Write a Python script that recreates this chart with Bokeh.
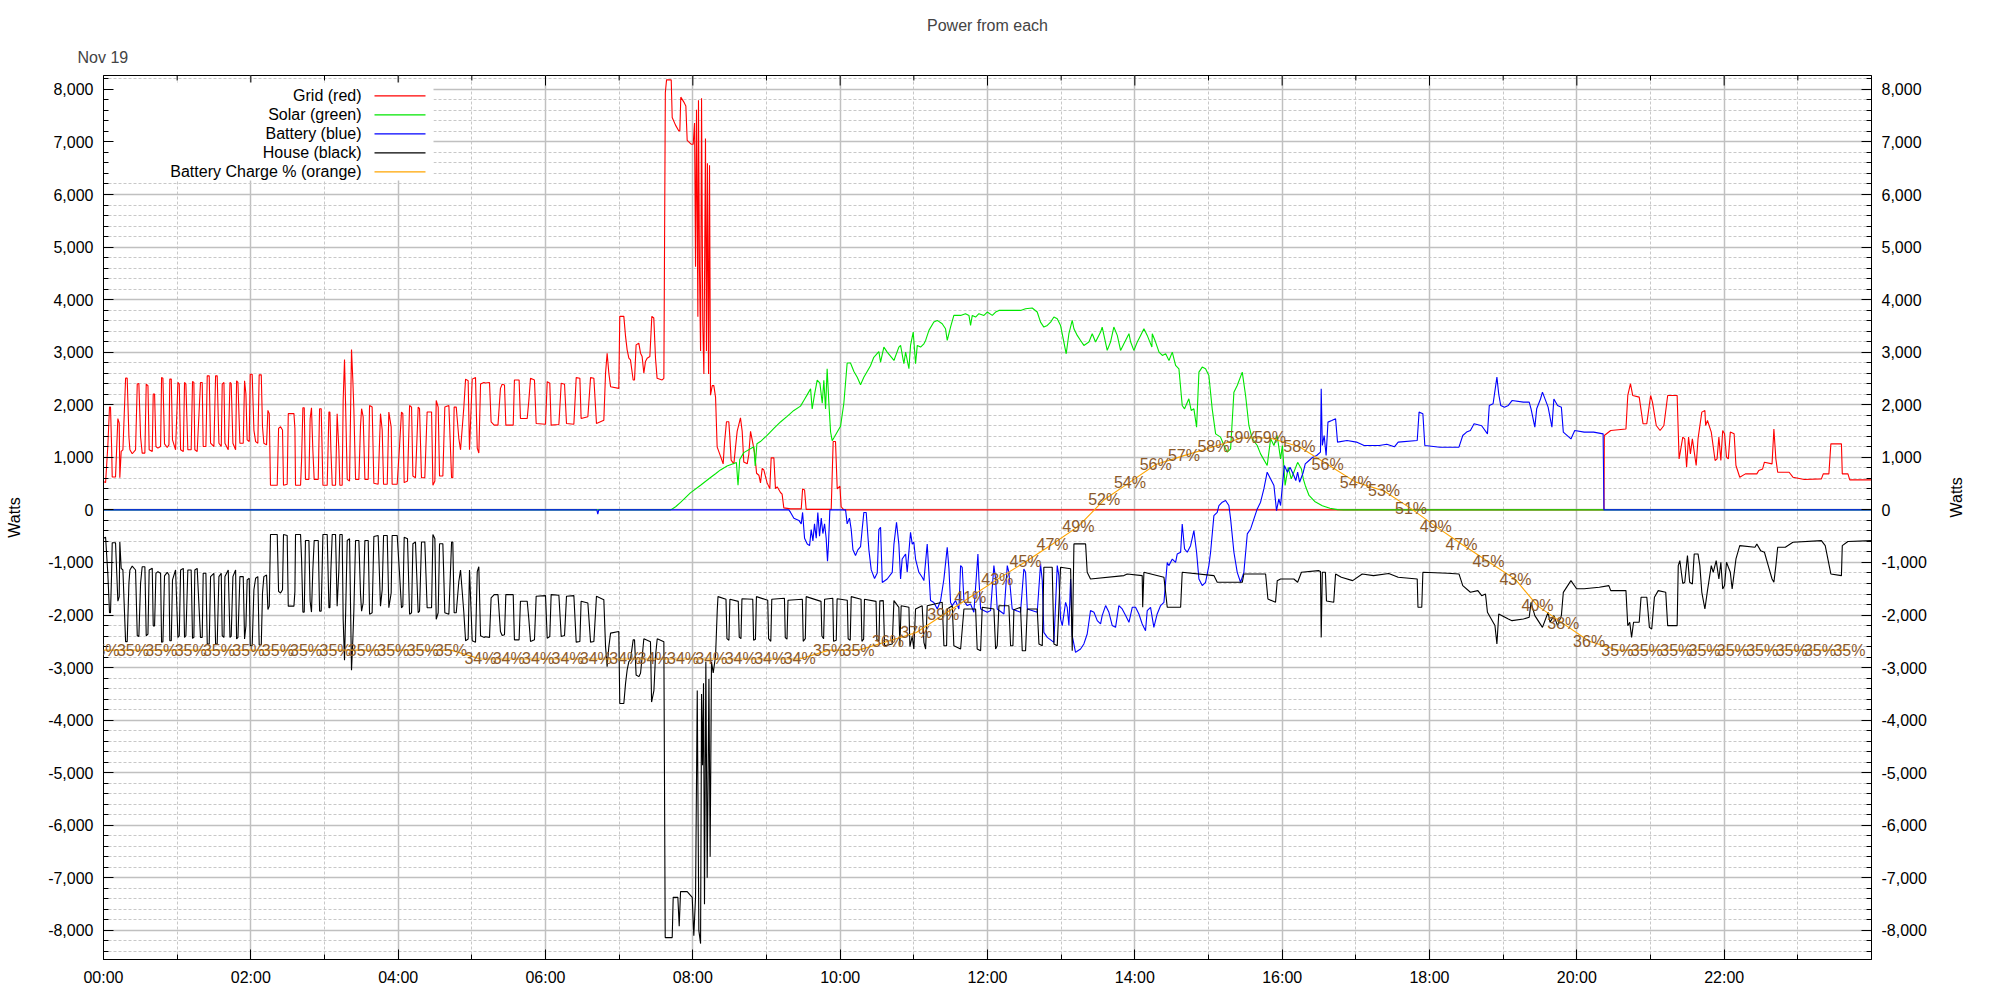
import math
from bokeh.plotting import figure
from bokeh.models import (Range1d, FixedTicker, NumeralTickFormatter, LinearAxis,
                          Title, Grid, LabelSet, ColumnDataSource)
from bokeh.embed import file_html
from bokeh.resources import INLINE
from bokeh.core.properties import value

FONT = "Liberation Sans"

# ---------------- ticks ----------------
x_tick_minutes = [0, 120, 240, 360, 480, 600, 720, 840, 960, 1080, 1200, 1320]
x_tick_labels = ["00:00", "02:00", "04:00", "06:00", "08:00", "10:00",
                 "12:00", "14:00", "16:00", "18:00", "20:00", "22:00"]
x_minor_minutes = [60, 180, 300, 420, 540, 660, 780, 900, 1020, 1140, 1260, 1380]
y_ticks = [-8000, -7000, -6000, -5000, -4000, -3000, -2000, -1000, 0,
           1000, 2000, 3000, 4000, 5000, 6000, 7000, 8000]
y_minor = [v for v in range(-8400, 8201, 200) if v % 1000 != 0]

title_text = "Power from each"
date_text = "Nov 19"
legend_labels = ["Grid (red)", "Solar (green)", "Battery (blue)",
                 "House (black)", "Battery Charge % (orange)"]

# ---------------- data (minutes since midnight, watts) ----------------
grid_pts = [
    (0, 540), (1.7, 519), (3.5, 1206), (4.9, 1956), (5.7, 1956), (6.6, 1206), (7.1, 625), (9.8, 625),
    (11.7, 1737), (12.8, 1650), (13.3, 612), (14.4, 1112), (15.8, 1143), (18, 2506), (19.3, 2506),
    (20.7, 1393), (21.5, 1143), (23.4, 1068), (26.1, 1143), (27.5, 2394), (28.8, 2406), (30.2, 1393),
    (31.5, 1081), (33.7, 1081), (34.8, 2394), (36.2, 2363), (37.2, 1143), (39.7, 1112), (40.5, 2206),
    (41.6, 2206), (42.7, 1206), (44.3, 1175), (46.5, 1206), (47.3, 2519), (48.4, 2506), (49.7, 1256),
    (51.9, 1187), (53.3, 1237), (54, 2488), (55.2, 2488), (56.2, 1331), (58.7, 1143), (60.6, 2425),
    (61.7, 2394), (62.8, 1143), (65, 1112), (66, 2425), (67.1, 2394), (68.7, 1143), (71.4, 1143),
    (72.5, 2444), (73.6, 2425), (74.4, 1143), (76.3, 1112), (79, 2425), (80.4, 2425), (81.2, 1206),
    (83.4, 1206), (84.5, 2550), (86.1, 2550), (87.2, 1269), (89.9, 1206), (91.3, 2550), (92.6, 2550),
    (94, 1269), (95.9, 1206), (96.7, 2394), (98.1, 2425), (98.9, 1269), (101.6, 1143), (103, 2425),
    (104, 2406), (105.4, 1269), (107.6, 1143), (108.4, 2456), (109.5, 2425), (111.1, 1269), (113.8, 1269),
    (114.9, 2456), (116, 2206), (117, 1331), (118.7, 1300), (119.5, 2581), (121.1, 2581), (122.5, 1519),
    (123.9, 1300), (125.7, 1269), (126.8, 2569), (128.5, 2569), (129.5, 1581), (130.6, 1269),
    (132.8, 1237), (133.9, 1894), (135, 1831), (136, 469), (141.5, 469), (142.6, 1550), (144.2, 1581),
    (145.8, 1519), (146.6, 469), (149.6, 487), (150.5, 1831), (155.1, 1831), (155.9, 1550), (156.4, 469),
    (160.5, 469), (161.3, 925), (162.4, 1944), (163.5, 1944), (164.5, 581), (167.3, 581), (168.3, 1737),
    (169.4, 1944), (170.5, 1143), (171.6, 581), (174.9, 581), (176, 1925), (177.3, 1925), (178.7, 469),
    (182.2, 469), (183.6, 1862), (184.4, 1862), (185.2, 1143), (186.3, 469), (189, 469), (190.3, 1831),
    (191.7, 1143), (192.5, 469), (194.4, 469), (195.2, 2081), (196.3, 2862), (197.1, 2081), (198.5, 581),
    (200.4, 550), (202, 3050), (203.1, 2456), (203.9, 1925), (205.3, 581), (208, 581), (209.3, 1581),
    (210.2, 1925), (211.5, 1769), (212.9, 581), (215.6, 581), (216.7, 1987), (218.8, 1956), (220.2, 506),
    (223.7, 487), (225.6, 1831), (227, 1519), (228.1, 487), (231.1, 487), (232.4, 1862), (234.3, 1581),
    (235.1, 487), (239.2, 487), (241.1, 1206), (242.7, 1862), (243.8, 1831), (244.9, 519), (247.6, 550),
    (249.3, 1987), (250.9, 1956), (252, 644), (254.1, 612), (256.3, 1956), (257.4, 1925), (259, 612),
    (261.7, 612), (263.6, 1862), (267.2, 1862), (268.3, 469), (269.9, 550), (271, 2081), (272.6, 1956),
    (273.7, 644), (276.4, 644), (278, 1956), (281.3, 1987), (283.5, 612), (284.5, 612), (285.6, 1956),
    (287.3, 1956), (289.4, 1362), (290.8, 1143), (293.5, 1956), (294.9, 2488), (297, 2456), (298.1, 1143),
    (299.5, 1987), (300.3, 2488), (303, 2519), (304.4, 1175), (305.7, 1081), (307.1, 2394), (309.8, 2425),
    (311.2, 2413), (314.4, 2425), (315.7, 1675), (318.2, 1612), (321.3, 1612), (323.3, 2312),
    (324.7, 2389), (326.6, 2376), (327.7, 1612), (333.7, 1612), (334.7, 2472), (338.5, 2472),
    (339.6, 1739), (345.1, 1739), (346.4, 2070), (347.8, 2503), (351, 2472), (352.4, 1643), (360, 1630),
    (361.4, 2440), (363.5, 2408), (364.6, 1612), (370.9, 1624), (372.8, 2408), (375.5, 2389),
    (377.1, 1643), (383.1, 1630), (385, 2516), (388, 2503), (389, 1739), (394.5, 1771), (396.7, 2516),
    (399.4, 2503), (401.5, 1643), (407.5, 1707), (408.9, 2600), (410.2, 2981), (411.6, 2600),
    (413, 2344), (419.7, 2312), (420.5, 3682), (423.8, 3682), (425.2, 3300), (426.5, 3045),
    (427.9, 2886), (429.2, 2854), (431.4, 2472), (432.5, 2472), (433.8, 3140), (436, 3172), (437.4, 2981),
    (438.7, 2917), (440.1, 2600), (441.4, 2822), (442.8, 2886), (445, 2917), (446.6, 3682), (448.2, 3650),
    (449.6, 2886), (450.9, 2503), (455, 2472), (456.4, 2503),
    (457.6, 7940), (458.6, 8180), (462.4, 8180), (463.2, 7466), (465.9, 7320), (468.6, 7210),
    (469.4, 7210), (470.2, 7852), (472.7, 7758), (474.3, 7686), (475.4, 7030), (478.6, 6957),
    (480.3, 6957), (481.4, 7358), (482.2, 4624), (483, 7612), (484.1, 3676), (484.6, 7795), (485.4, 4624),
    (486.3, 3021), (487.1, 7831), (488.1, 3532), (489, 2584), (490.3, 7064), (491.1, 3021), (491.9, 6593),
    (492.8, 2584), (493.6, 6556), (494.4, 2183), (495.8, 2365), (497.1, 2365), (498.5, 2147),
    (499.8, 1200), (502.5, 1022), (504.7, 876), (505.8, 1272), (507.4, 1676), (509.3, 1676), (510.1, 1404),
    (511.2, 946), (513.4, 876), (514.8, 1200), (516.1, 1494), (518.8, 1750), (520.2, 1494), (521.5, 910),
    (524.3, 876), (525.6, 1058), (527, 1494), (529.1, 1240), (530.5, 1058), (531.9, 698), (533.8, 660),
    (535.1, 514), (536.5, 790), (537.8, 760), (540.5, 514), (542.7, 405), (543.8, 990), (546, 990),
    (547.3, 405), (548.7, 440), (551.4, 331), (552.7, 300), (554.1, 38), (559.6, 20), (568.3, 20),
    (569.4, 400), (571, 380), (572.3, 10), (592.7, 10), (594.3, 1300), (596.2, 1300), (597.6, 400),
    (599.8, 450), (600.8, 60), (603, 0), (1222.1, 0),
    (1222.4, 1415), (1227.6, 1510), (1240, 1540), (1241.5, 2177), (1243.7, 2400), (1245.5, 2177),
    (1250.8, 2145), (1253.9, 1640), (1257, 1640), (1260.1, 2177), (1261.6, 2050), (1264.7, 1606),
    (1267.8, 1510), (1270.9, 1606), (1274, 2177), (1281.7, 2177), (1283.3, 971), (1286.3, 1384),
    (1287.9, 1350), (1289.4, 812), (1291, 1384), (1292.5, 1066), (1294.1, 1350), (1297.2, 844),
    (1298.7, 1350), (1301.8, 1860), (1304.3, 1890), (1304.9, 1606), (1306.4, 1700), (1309.5, 1480),
    (1312.6, 939), (1314.2, 971), (1315.7, 1384), (1317.3, 939), (1318.8, 1510), (1320.3, 1447),
    (1321.9, 1003), (1323.4, 971), (1325, 1480), (1328.1, 1447), (1329.6, 844), (1332.7, 622),
    (1337.3, 685), (1346.6, 685), (1348.2, 749), (1351.3, 780), (1352.8, 907), (1359, 876), (1360.5, 1540),
    (1362.1, 971), (1363.6, 717), (1372.9, 717), (1376, 622), (1385.3, 577), (1399.2, 590), (1400.7, 685),
    (1405.3, 685), (1406.9, 1256), (1415.5, 1256), (1416.2, 685), (1420.8, 685), (1422.3, 571),
    (1440, 571),
]

solar_pts = [
    (0, 0), (462, 0), (466, 60), (470, 143), (478, 324), (486.3, 470), (494.4, 616), (498.5, 688),
    (502.5, 761), (507.9, 834), (515.5, 900), (516.8, 470), (518.2, 960), (521.5, 1090), (529.7, 1200),
    (530.8, 836), (532.2, 1260), (535, 1300), (540.5, 1418), (546, 1550), (551.4, 1673), (556.8, 1780),
    (562.3, 1892), (567.7, 1974), (570.4, 2083), (573.2, 2193), (575.9, 2302), (577.2, 1920),
    (579.1, 2193), (581.3, 2467), (583.5, 2412), (585.4, 2029), (586.7, 2467), (588.1, 1920),
    (589.4, 2686), (590.8, 2029), (592.2, 1482), (593.5, 1318), (594.9, 1373), (597.6, 1482),
    (600.3, 1591), (603, 2029), (605.7, 2796), (608.4, 2796), (611.2, 2632), (613.9, 2522),
    (616.6, 2380), (619.3, 2522), (622, 2632), (624.7, 2741), (627.4, 2903), (631.5, 3013),
    (632.9, 2812), (635.6, 3097), (638.3, 3002), (643.8, 2843), (647.8, 3097), (649.2, 3129),
    (651.9, 2780), (653.3, 3002), (656, 2685), (657.3, 3129), (659.5, 3383), (661.4, 2780),
    (662.8, 3129), (665.5, 3097), (668.2, 3160), (669.6, 3224), (672.3, 3415), (676.3, 3573),
    (679.1, 3605), (683.1, 3542), (685.8, 3446), (687.2, 3224), (689.9, 3478), (692.6, 3700),
    (698.1, 3700), (702.1, 3732), (704.9, 3700), (706.2, 3510), (707.6, 3700), (710.3, 3669),
    (713, 3732), (717.1, 3700), (719.8, 3764), (723.9, 3700), (726.6, 3764), (729.3, 3795),
    (736.1, 3795), (741.5, 3795), (746.9, 3795), (751, 3827), (756.4, 3840), (760.5, 3764),
    (763.2, 3573), (765.9, 3478), (768.7, 3510), (771.4, 3573), (774.1, 3669), (776.8, 3637),
    (779.5, 3510), (782.2, 3193), (784.1, 2970), (786.3, 3352), (789, 3605), (790.4, 3446),
    (793.1, 3320), (795.8, 3224), (798.5, 3129), (802.6, 3193), (805.3, 3352), (808, 3193),
    (812.1, 3383), (813.4, 3478), (817.5, 3034), (820.2, 3193), (822.9, 3478), (825.7, 3320),
    (828.4, 3034), (831.1, 3161), (835.2, 3352), (836.6, 3193), (839.2, 3034), (842, 3193),
    (844.7, 3320), (847.4, 3446), (850.1, 3320), (853.9, 3097), (854.2, 3352), (856.9, 3193),
    (859.7, 3002), (862.4, 2939), (865.1, 2970), (867.8, 2843), (870.5, 3002), (873.2, 2748),
    (875.9, 2685), (878.6, 1987), (880.5, 1923), (884, 2114), (885.9, 1891), (888.1, 1923),
    (890.3, 1574), (892.2, 2621), (894.9, 2717), (897.6, 2685), (900.3, 2558), (903, 1923),
    (905.8, 1447), (909.8, 1384), (912.6, 1225), (915.3, 1098), (918, 1161), (920.7, 2240),
    (923.4, 2367), (927.5, 2621), (930.2, 2177), (932.9, 1606), (935.6, 1352), (939.7, 1225),
    (942.4, 1066), (947.8, 844), (950.6, 1352), (953.3, 1225), (955.9, 1415), (958.7, 971),
    (960.2, 1225), (962.4, 465), (964.9, 810), (967.4, 590), (969.5, 715), (972.6, 905), (975.7, 780),
    (977.2, 590), (978.8, 465), (981.9, 275), (986.5, 160), (992.7, 80), (998.9, 30), (1005, 6),
    (1010, 0), (1440, 0),
]

battery_pts = [
    (0, 0), (401.8, 0), (402.6, -80), (403.4, 0), (558.2, 0), (559.6, -48), (562.3, -157), (566.4, -200),
    (568.3, -266), (569.4, -48), (571, -540), (573.2, -650), (575.1, -680), (576.4, -376), (577.8, -590),
    (579.1, -266), (580.5, -540), (581.8, -48), (583.2, -500), (584.6, -157), (585.9, -450), (587.3, -266),
    (588.6, -540), (589.7, -977), (590.5, -650), (591.6, 0), (604.4, 0), (605.7, -266), (607.6, -157),
    (609, -376), (610.4, -758), (612.5, -868), (614.4, -760), (616.6, -700), (617.9, -376), (619.3, -48),
    (621.2, -48), (623.4, -760), (625.3, -1141), (628, -1305), (630.2, -1200), (631.5, -376),
    (632.9, -330), (634.3, -1380), (638.3, -1315), (642.4, -1190), (643.8, -650), (645.9, -235),
    (647.8, -650), (649.2, -1315), (650.5, -935), (653.3, -838), (654.6, -1187), (657.3, -425),
    (658.7, -650), (660, -615), (661.4, -935), (664.1, -1187), (666.8, -1282), (668.2, -1345),
    (670.9, -650), (673.6, -1725), (676.3, -1760), (679.1, -1885), (681.8, -1725), (684.5, -1315),
    (687.2, -710), (688.6, -1120), (689.9, -1760), (691.3, -1820), (694, -1725), (696.7, -1885),
    (698.1, -1060), (699.4, -1092), (700.8, -1725), (703.5, -1820), (706.2, -1790), (708.9, -1948),
    (712.2, -840), (713, -1315), (714.4, -1885), (719.8, -1948), (722.5, -1916), (725.2, -1060),
    (726.6, -1315), (727.9, -1885), (733.4, -1980), (736.1, -1060), (737.4, -1187), (740.1, -1885),
    (746.9, -1948), (749.6, -1125), (751, -1187), (752.4, -1885), (760.5, -1948), (763.2, -1030),
    (764.6, -1340), (765.9, -2330), (768.7, -2425), (774.1, -2520), (776.8, -1060), (778.1, -1250),
    (779.5, -2075), (780.9, -2200), (783.6, -1760), (784.9, -1853), (786.3, -2200), (787.7, -1315),
    (789, -2390), (791.7, -2710), (793.6, -2680), (795.8, -2647), (798.5, -2550), (801.2, -2360),
    (803.9, -1915), (806.7, -1948), (809.4, -2106), (812.1, -2170), (813.4, -2011), (816.2, -1820),
    (818.9, -1948), (821.6, -2200), (824.3, -2234), (827, -1820), (829.7, -1885), (832.5, -2011),
    (835.2, -2138), (837.9, -1853), (840.6, -1853), (843.3, -1980), (846, -2170), (848.7, -2300),
    (850.1, -1916), (852.8, -1853), (855.5, -2234), (858.2, -1980), (861, -1820), (863.7, -1760),
    (866.4, -1000), (867.7, -1060), (870.5, -935), (873.2, -1000), (874.5, -840), (877.3, -806),
    (878.6, -267), (880.5, -743), (882.7, -806), (885.4, -680), (888.1, -394), (890.3, -806),
    (892.2, -1315), (894.9, -1440), (897.6, -1377), (900.3, -1060), (901.7, -806), (904.4, -108),
    (907.1, -45), (908.5, 83), (911.2, 146), (913.9, 178), (916.6, 83), (918, -170), (920.7, -806),
    (923.4, -1187), (926.1, -1377), (928.8, -1187), (931.6, -457), (934.3, -362), (937, -170),
    (939.7, 19), (942.4, 146), (945.1, 400), (947.8, 717), (950.6, 590), (953.3, 463), (955.4, -13),
    (957.3, 209), (958.7, 83), (960.2, 463), (961.8, 844), (964.3, 717), (966.4, 812), (969.5, 654),
    (971.1, 558), (972.6, 717), (974.2, 527), (977.2, 717), (978.8, 876), (981.9, 940), (985, 1003),
    (988.1, 1035), (991.2, 1100), (991.8, 2305), (992.7, 1225), (994.2, 1415), (995.8, 1035),
    (997.3, 1670), (1000.4, 1700), (1003.5, 1733), (1005.1, 1290), (1012.8, 1320), (1020.5, 1290),
    (1026.7, 1225), (1039.1, 1225), (1045.2, 1250), (1051.4, 1200), (1054.5, 1290), (1070, 1320),
    (1071.5, 1860), (1074.6, 1830), (1076.2, 1225), (1088.5, 1193), (1104, 1193), (1107.1, 1415),
    (1110.2, 1480), (1113.3, 1510), (1116.3, 1640), (1122.5, 1600), (1127.2, 1447), (1128.7, 1987),
    (1131.8, 2020), (1134.9, 2526), (1136.4, 2200), (1138, 1987), (1141.1, 1955), (1144.2, 1987),
    (1147.2, 2080), (1156.5, 2050), (1161.2, 2050), (1162.7, 1923), (1165.8, 1574), (1167.3, 1923),
    (1170.4, 2110), (1172, 2240), (1176.6, 1955), (1179.7, 1574), (1181.3, 2110), (1184.3, 1987),
    (1187.4, 1955), (1189, 1480), (1195.2, 1350), (1198.3, 1510), (1206, 1480), (1213.7, 1480),
    (1221.4, 1447), (1222.1, 0), (1440, 0),
]

house_pts = [
    (0, -540), (1.7, -519), (3.5, -1206), (4.9, -1956), (5.7, -1956), (6.6, -1206), (7.1, -625),
    (9.8, -625), (11.7, -1737), (12.8, -1650), (13.3, -612), (14.4, -1112), (15.8, -1143), (18, -2506),
    (19.3, -2506), (20.7, -1393), (21.5, -1143), (23.4, -1068), (26.1, -1143), (27.5, -2394),
    (28.8, -2406), (30.2, -1393), (31.5, -1081), (33.7, -1081), (34.8, -2394), (36.2, -2363),
    (37.2, -1143), (39.7, -1112), (40.5, -2206), (41.6, -2206), (42.7, -1206), (44.3, -1175),
    (46.5, -1206), (47.3, -2519), (48.4, -2506), (49.7, -1256), (51.9, -1187), (53.3, -1237),
    (54, -2488), (55.2, -2488), (56.2, -1331), (58.7, -1143), (60.6, -2425), (61.7, -2394),
    (62.8, -1143), (65, -1112), (66, -2425), (67.1, -2394), (68.7, -1143), (71.4, -1143),
    (72.5, -2444), (73.6, -2425), (74.4, -1143), (76.3, -1112), (79, -2425), (80.4, -2425),
    (81.2, -1206), (83.4, -1206), (84.5, -2550), (86.1, -2550), (87.2, -1269), (89.9, -1206),
    (91.3, -2550), (92.6, -2550), (94, -1269), (95.9, -1206), (96.7, -2394), (98.1, -2425),
    (98.9, -1269), (101.6, -1143), (103, -2425), (104, -2406), (105.4, -1269), (107.6, -1143),
    (108.4, -2456), (109.5, -2425), (111.1, -1269), (113.8, -1269), (114.9, -2456), (116, -2206),
    (117, -1331), (118.7, -1300), (119.5, -2581), (121.1, -2581), (122.5, -1519), (123.9, -1300),
    (125.7, -1269), (126.8, -2569), (128.5, -2569), (129.5, -1581), (130.6, -1269), (132.8, -1237),
    (133.9, -1894), (135, -1831), (136, -469), (141.5, -469), (142.6, -1550), (144.2, -1581),
    (145.8, -1519), (146.6, -469), (149.6, -487), (150.5, -1831), (155.1, -1831), (155.9, -1550),
    (156.4, -469), (160.5, -469), (161.3, -925), (162.4, -1944), (163.5, -1944), (164.5, -581),
    (167.3, -581), (168.3, -1737), (169.4, -1944), (170.5, -1143), (171.6, -581), (174.9, -581),
    (176, -1925), (177.3, -1925), (178.7, -469), (182.2, -469), (183.6, -1862), (184.4, -1862),
    (185.2, -1143), (186.3, -469), (189, -469), (190.3, -1831), (191.7, -1143), (192.5, -469),
    (194.4, -469), (195.2, -2081), (196.3, -2862), (197.1, -2081), (198.5, -581), (200.4, -550),
    (202, -3050), (203.1, -2456), (203.9, -1925), (205.3, -581), (208, -581), (209.3, -1581),
    (210.2, -1925), (211.5, -1769), (212.9, -581), (215.6, -581), (216.7, -1987), (218.8, -1956),
    (220.2, -506), (223.7, -487), (225.6, -1831), (227, -1519), (228.1, -487), (231.1, -487),
    (232.4, -1862), (234.3, -1581), (235.1, -487), (239.2, -487), (241.1, -1206), (242.7, -1862),
    (243.8, -1831), (244.9, -519), (247.6, -550), (249.3, -1987), (250.9, -1956), (252, -644),
    (254.1, -612), (256.3, -1956), (257.4, -1925), (259, -612), (261.7, -612), (263.6, -1862),
    (267.2, -1862), (268.3, -469), (269.9, -550), (271, -2081), (272.6, -1956), (273.7, -644),
    (276.4, -644), (278, -1956), (281.3, -1987), (283.5, -612), (284.5, -612), (285.6, -1956),
    (287.3, -1956), (289.4, -1362), (290.8, -1143), (293.5, -1956), (294.9, -2488), (297, -2456),
    (298.1, -1143), (299.5, -1987), (300.3, -2488), (303, -2519), (304.4, -1175), (305.7, -1081),
    (307.1, -2394), (309.8, -2425), (311.2, -2413), (314.4, -2425), (315.7, -1675), (318.2, -1612),
    (321.3, -1612), (323.3, -2312), (324.7, -2389), (326.6, -2376), (327.7, -1612), (333.7, -1612),
    (334.7, -2472), (338.5, -2472), (339.6, -1739), (345.1, -1739), (346.4, -2070), (347.8, -2503),
    (351, -2472), (352.4, -1643), (360, -1630), (361.4, -2440), (363.5, -2408), (364.6, -1612),
    (370.9, -1624), (372.8, -2408), (375.5, -2389), (377.1, -1643), (383.1, -1630), (385, -2516),
    (388, -2503), (389, -1739), (394.5, -1771), (396.7, -2516), (399.4, -2503), (401.5, -1643),
    (407.5, -1707), (408.9, -2600), (410.2, -2981), (411.6, -2600), (413, -2344), (419.7, -2312),
    (420.5, -3682), (423.8, -3682), (425.2, -3300), (426.5, -3045), (427.9, -2886), (429.2, -2854),
    (431.4, -2472), (432.5, -2472), (433.8, -3140), (436, -3172), (437.4, -3108), (438.8, -2780),
    (440.1, -2452), (445.5, -2507), (446.4, -3655), (448.3, -3437), (449.6, -2780), (451, -2452),
    (456.4, -2507), (457.5, -8136), (463.2, -8136), (464, -7371), (467.8, -7371), (468.9, -7918),
    (470, -7262), (475.4, -7262), (479.5, -7371), (480.8, -8100), (482.2, -7371), (483.6, -3437),
    (484.9, -8000), (486.3, -8250), (487.1, -3500), (487.9, -4858), (488.7, -3300), (489.5, -7500),
    (490.6, -2890), (491.7, -7000), (493.1, -3218), (494.1, -6600), (495.2, -2890), (496.6, -3100),
    (498.5, -2780), (499.9, -1905), (500.5, -1650), (507, -1700), (507.8, -2450), (509.4, -2480),
    (510.2, -1700), (517, -1740), (517.8, -2420), (519.2, -2450), (520, -1690), (528.8, -1700),
    (529.5, -2480), (531, -2460), (531.8, -1650), (541, -1720), (541.7, -2450), (543.5, -2500),
    (544.3, -1700), (554.6, -1680), (555.3, -2430), (556.7, -2460), (557.5, -1720), (569.2, -1700),
    (569.9, -2500), (571.6, -2450), (572.3, -1650), (584.4, -1740), (585.1, -2400), (586.5, -2450),
    (587.3, -1700), (594, -1680), (594.6, -2500), (596.8, -2480), (597.5, -1690), (605.8, -1720),
    (606.5, -2450), (608.2, -2480), (609, -1650), (617, -1700), (617.7, -2500), (619.1, -2460),
    (619.8, -1700), (629.2, -1740), (629.9, -2470), (631.6, -2500), (632.3, -1730),
    (635.1, -1726), (636.2, -2583), (642.4, -2552), (643.8, -1726), (647.8, -1853), (648.6, -2583),
    (649.7, -1822), (656, -1853), (656.8, -2600), (658.7, -2400), (660, -2647), (661.4, -1885),
    (666.8, -1822), (668.2, -2520), (669.6, -2647), (670.9, -1822), (683.1, -1758), (684.5, -2583),
    (686.7, -2583), (687.2, -1885), (691.3, -1822), (692.6, -2583), (698.1, -2647), (700.8, -1885),
    (710.3, -1885), (711.6, -2647), (714.4, -2678), (715.7, -1853), (725.2, -1885), (726.6, -2647),
    (727.9, -2583), (729.3, -1822), (737.4, -1822), (738.8, -2583), (740.7, -2583), (741.5, -1900),
    (746.9, -1853), (748.3, -2678), (751, -2678), (752.4, -1885), (760.5, -1885), (761.9, -2552),
    (764.6, -2583), (765.9, -1092), (772.7, -1092), (774.1, -2552), (776.8, -2583), (779.5, -1092),
    (787.7, -1120), (789, -2678), (790.4, -647), (799.9, -647), (801.2, -1187), (803.9, -1314),
    (831.1, -1250), (833.8, -1219), (846, -1250), (846.4, -1853), (847.4, -1187), (863.7, -1282),
    (866.4, -1853), (877.3, -1853), (878.6, -1187), (904.4, -1250), (907.1, -1377), (927.5, -1377),
    (928.8, -1219), (946.5, -1219), (948.4, -1695), (954.6, -1758), (956, -1346), (958.7, -1314),
    (969.5, -1314), (972.6, -1377), (975.7, -1187), (989.6, -1155), (991.2, -1170), (991.8, -2425),
    (992.7, -1187), (995.2, -1187), (996.1, -1733), (1002, -1758), (1003.5, -1218), (1008.2, -1282),
    (1017.4, -1345), (1025.2, -1220), (1034.4, -1250), (1046.8, -1210), (1054.5, -1282),
    (1070, -1314), (1070.6, -1853), (1073.7, -1853), (1074.6, -1187), (1094.7, -1205), (1104, -1218),
    (1107.1, -1440), (1113.3, -1567), (1119.4, -1535), (1122.5, -1631), (1125.6, -1600),
    (1127.2, -1948), (1131.8, -2138), (1133.3, -2200), (1134.9, -2551), (1136.4, -1980),
    (1144.2, -2075), (1147.2, -2107), (1156.5, -2075), (1161.2, -2043), (1162.7, -1758),
    (1165.8, -2011), (1172, -2234), (1176.6, -1948), (1178.2, -2138), (1181.3, -2011), (1184.3, -2202),
    (1187.4, -2011), (1189, -1568), (1195.2, -1345), (1199.8, -1500), (1206, -1500), (1218.3, -1470),
    (1226.1, -1440), (1227.6, -1536), (1240, -1536), (1241.5, -2202), (1243.1, -2138), (1244.6, -2425),
    (1246.2, -2138), (1250.8, -2138), (1252.3, -1663), (1257, -1663), (1259.1, -2234), (1261, -2266),
    (1263.2, -1663), (1266.3, -1536), (1272.4, -1568), (1274, -2202), (1281.7, -2202), (1282.6, -1060),
    (1283.9, -965), (1286.3, -1400), (1287.9, -1377), (1290.1, -870), (1291.9, -1377), (1294.1, -1410),
    (1295.6, -838), (1298.7, -838), (1300.2, -1060), (1301.8, -1568), (1304.3, -1885), (1306.4, -1536),
    (1309.5, -1060), (1311.1, -1187), (1313.5, -965), (1315.7, -1314), (1317.3, -996), (1318.8, -1504),
    (1320.3, -1440), (1321.9, -996), (1325, -1187), (1326.5, -1504), (1329.6, -933), (1332.7, -679),
    (1345.1, -710), (1346.6, -647), (1349.7, -775), (1352.8, -806), (1355.9, -1060), (1359, -1314),
    (1360.5, -1377), (1362.1, -1060), (1363.6, -710), (1369.8, -710), (1376, -616), (1399.2, -584),
    (1402.3, -680), (1406.9, -1218), (1415.5, -1250), (1416.2, -680), (1420.8, -600), (1440, -584),
]

charge_t = [0, 24, 47, 71, 94, 118, 142, 165, 189, 212, 236, 260, 283,
            307, 330, 354, 378, 401, 425, 448, 472, 495, 519, 543, 567,
            591, 615, 639, 662, 684, 706, 728, 751, 773, 794, 815, 836, 857, 880,
            904, 927, 950, 974, 997, 1020, 1043, 1065, 1085, 1106, 1128, 1150, 1168,
            1189, 1210, 1233, 1257, 1281, 1304, 1327, 1351, 1375, 1398, 1422]
charge_pct = [35, 35, 35, 35, 35, 35, 35, 35, 35, 35, 35, 35, 35,
              34, 34, 34, 34, 34, 34, 34, 34, 34, 34, 34, 34,
              35, 35, 36, 37, 39, 41, 43, 45, 47, 49, 52, 54, 56, 57,
              58, 59, 59, 58, 56, 54, 53, 51, 49, 47, 45, 43, 40,
              38, 36, 35, 35, 35, 35, 35, 35, 35, 35, 35]

series_colors = ["#ff0000", "#00e600", "#0000ff", "#000000", "#ffa500"]
label_color = "#8b5a2b"

# ---------------- figure ----------------
FW, FH = 1768, 884
p = figure(frame_width=FW, frame_height=FH,
           x_range=Range1d(0, 1440), y_range=Range1d(-8553, 8264),
           x_axis_type=None, y_axis_type=None,
           output_backend="svg", toolbar_location=None,
           min_border_left=0, min_border_right=0, min_border_top=0, min_border_bottom=0,
           background_fill_color="white", border_fill_color="white")
p.margin = (11, 0, 0, 3)
p.outline_line_color = "black"
p.outline_line_width = 1
p.extra_x_ranges = {"px": Range1d(0, FW)}
p.extra_y_ranges = {"px": Range1d(FH, 0), "pct": Range1d(0, 100)}

xticker = FixedTicker(ticks=x_tick_minutes, minor_ticks=x_minor_minutes)
yticker = FixedTicker(ticks=y_ticks, minor_ticks=y_minor)


def style_axis(ax, ticker):
    ax.ticker = ticker
    ax.axis_line_color = "black"
    ax.axis_line_width = 1
    ax.major_tick_in = 10
    ax.major_tick_out = 0
    ax.minor_tick_in = 5
    ax.minor_tick_out = 0
    ax.major_tick_line_color = "black"
    ax.minor_tick_line_color = "black"
    ax.major_label_text_font = FONT
    ax.major_label_text_font_size = "16px"
    ax.major_label_text_color = "black"
    ax.major_label_standoff = 10
    ax.axis_label_text_font = FONT
    ax.axis_label_text_font_size = "16px"
    ax.axis_label_text_font_style = "normal"
    ax.axis_label_text_color = "black"


xb = LinearAxis()
style_axis(xb, xticker)
xb.major_label_overrides = dict(zip(x_tick_minutes, x_tick_labels))
xb.major_label_standoff = 9
p.add_layout(xb, "below")

yl = LinearAxis(axis_label="Watts")
style_axis(yl, yticker)
yl.formatter = NumeralTickFormatter(format="0,0")
yl.axis_label_standoff = 22
p.add_layout(yl, "left")

yr = LinearAxis(axis_label="Watts")
style_axis(yr, yticker)
yr.formatter = NumeralTickFormatter(format="0,0")
yr.axis_label_standoff = 27
if "axis_label_orientation" in yr.properties():
    yr.axis_label_orientation = math.pi / 2
p.add_layout(yr, "right")

gx = Grid(dimension=0, ticker=xticker, grid_line_color="#c0c0c0", grid_line_width=1.5,
          minor_grid_line_color="#c8c8c8", minor_grid_line_dash="3 2", minor_grid_line_width=1)
gy = Grid(dimension=1, ticker=yticker, grid_line_color="#c0c0c0", grid_line_width=1.5,
          minor_grid_line_color="#c8c8c8", minor_grid_line_dash="3 2", minor_grid_line_width=1)
p.add_layout(gx, "center")
p.add_layout(gy, "center")

# titles
p.add_layout(Title(text=date_text, align="left", offset=-26, text_font=FONT,
                   text_font_size="16px", text_font_style="normal", standoff=19), "above")
p.add_layout(Title(text=title_text, align="center", text_font=FONT,
                   text_font_size="16px", text_font_style="normal", standoff=7), "above")

# mirrored tick marks on the top border (inward), frame-pixel y
p.segment(x0=x_tick_minutes, x1=x_tick_minutes, y0=[0] * len(x_tick_minutes),
          y1=[10] * len(x_tick_minutes), line_color="black", line_width=1, y_range_name="px")
p.segment(x0=x_minor_minutes, x1=x_minor_minutes, y0=[0] * len(x_minor_minutes),
          y1=[5] * len(x_minor_minutes), line_color="black", line_width=1, y_range_name="px")

# key (gnuplot style: text right-aligned, sample line to the right), frame pixel coords
key_rows = [20.3, 39.3, 58.3, 77.3, 96.3]
p.quad(left=1, right=330, top=7, bottom=105, fill_color="white", line_color=None,
       x_range_name="px", y_range_name="px")
p.text(x=[258] * 5, y=key_rows, text=legend_labels, text_align="right", text_baseline="middle",
       text_font=value(FONT), text_font_size="16px", text_color="black",
       x_range_name="px", y_range_name="px")
p.segment(x0=[271] * 5, x1=[322] * 5, y0=key_rows, y1=key_rows, line_color=series_colors,
          line_width=1.2, x_range_name="px", y_range_name="px")

# data lines
for pts, col in zip([grid_pts, solar_pts, battery_pts, house_pts], series_colors[:4]):
    p.line(x=[a for a, b in pts], y=[b for a, b in pts], line_color=col, line_width=1.1)

charge_src = ColumnDataSource(dict(t=charge_t, pct=charge_pct,
                                   txt=[f"{v}%" for v in charge_pct]))
p.add_layout(LabelSet(x="t", y="pct", text="txt", source=charge_src, y_range_name="pct",
                      text_align="center", text_baseline="middle", text_font=value(FONT),
                      text_font_size="16px", text_color=label_color))
p.line(x=charge_t, y=charge_pct, line_color=series_colors[4], line_width=1.1, y_range_name="pct")

open("out.html", "w").write(file_html(p, INLINE))
